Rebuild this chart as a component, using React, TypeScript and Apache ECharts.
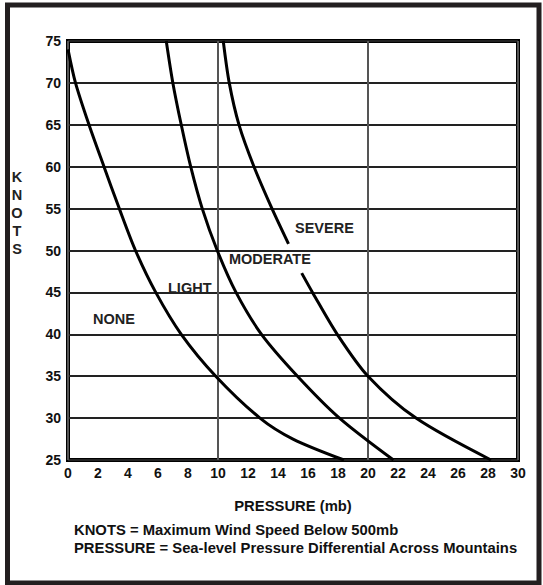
import React, { useEffect, useRef } from "react";
import * as echarts from "echarts";

// Curve boundaries: [pressure (mb), knots]
const noneLight: [number, number][] = [
  [0, 74], [0.5, 70], [1.4, 65], [2.4, 60], [3.42, 55], [4.5, 50], [5.85, 45],
  [7.55, 40], [9.85, 35], [12.8, 30], [15.0, 27.5], [18.4, 25],
];
const lightModerate: [number, number][] = [
  [6.55, 75], [6.99, 70], [7.55, 65], [8.18, 60], [8.95, 55], [9.95, 50], [11.2, 45],
  [12.9, 40], [15.3, 35], [18.1, 30], [21.7, 25],
];
const moderateSevereUpper: [number, number][] = [
  [10.35, 75], [10.75, 70], [11.4, 65], [12.4, 60], [13.6, 55], [14.7, 50.8],
];
const moderateSevereLower: [number, number][] = [
  [15.58, 47.3], [16.3, 45], [17.95, 40], [20, 35], [23.2, 30], [28.2, 25],
];

const xTicks = { min: 0, max: 30, interval: 2 };
const yTicks = { min: 25, max: 75, interval: 5 };

const regionLabels = ["NONE", "LIGHT", "MODERATE", "SEVERE"];
const axisTitleX = "PRESSURE (mb)";
const axisTitleY = ["K", "N", "O", "T", "S"];
const notes = [
  "KNOTS = Maximum Wind Speed Below 500mb",
  "PRESSURE = Sea-level Pressure Differential Across Mountains",
];

const FONT = "'Liberation Sans', Arial, Helvetica, sans-serif";
const INK = "#111";

export default function App() {
  const ref = useRef<HTMLDivElement>(null);
  useEffect(() => {
    if (!ref.current) return;
    const chart = echarts.init(ref.current, undefined, { renderer: "svg" });
    const lineSeries = (data: [number, number][]) => ({
      type: "line",
      data,
      smooth: 0.3,
      symbol: "none",
      xAxisIndex: 0,
      yAxisIndex: 0,
      lineStyle: { color: "#000", width: 3 },
      z: 5,
    });
    const labelStyle = { fontFamily: FONT, fontWeight: "bold", fontSize: 14.5, fill: "#222" };
    const noteStyle = { fontFamily: FONT, fontWeight: "bold", fontSize: 14.8, fill: INK };
    chart.setOption({
      animation: false,
      backgroundColor: "#fff",
      grid: {
        left: 68,
        right: 25,
        top: 41,
        bottom: 125,
        show: true,
        borderColor: "#000",
        borderWidth: 4,
        backgroundColor: "transparent",
      },
      xAxis: [
        {
          type: "value",
          min: xTicks.min,
          max: xTicks.max,
          interval: xTicks.interval,
          axisLine: { show: false },
          axisTick: { show: false },
          splitLine: { show: false },
          axisLabel: {
            color: INK,
            fontFamily: FONT,
            fontWeight: "bold",
            fontSize: 14,
            margin: 6,
          },
          name: axisTitleX,
          nameLocation: "middle",
          nameGap: 38,
          nameTextStyle: { color: INK, fontFamily: FONT, fontWeight: "bold", fontSize: 14.8 },
        },
        {
          type: "value",
          min: xTicks.min,
          max: xTicks.max,
          interval: 10,
          position: "bottom",
          axisLine: { show: false },
          axisTick: { show: false },
          axisLabel: { show: false },
          splitLine: { show: true, lineStyle: { color: "#555", width: 2 } },
        },
      ],
      yAxis: {
        type: "value",
        min: yTicks.min,
        max: yTicks.max,
        interval: yTicks.interval,
        axisLine: { show: false },
        axisTick: { show: false },
        axisLabel: {
          color: INK,
          fontFamily: FONT,
          fontWeight: "bold",
          fontSize: 14,
          margin: 7,
        },
        splitLine: { show: true, lineStyle: { color: "#222", width: 2 } },
      },
      series: [
        lineSeries(noneLight),
        lineSeries(lightModerate),
        lineSeries(moderateSevereUpper),
        lineSeries(moderateSevereLower),
      ],
      graphic: [
        {
          type: "rect",
          shape: { x: 7.5, y: 5, width: 531.5, height: 578 },
          style: { fill: "none", stroke: "#231f20", lineWidth: 5 },
          silent: true,
          z: 100,
        },
        {
          type: "text",
          x: 17,
          y: 213,
          style: {
            text: axisTitleY.join("\n"),
            lineHeight: 17.8,
            align: "center",
            verticalAlign: "middle",
            ...labelStyle,
          },
        },
        { type: "text", x: 93, y: 319, style: { text: regionLabels[0], verticalAlign: "middle", ...labelStyle } },
        { type: "text", x: 168, y: 288, style: { text: regionLabels[1], verticalAlign: "middle", ...labelStyle } },
        { type: "text", x: 229, y: 259, style: { text: regionLabels[2], verticalAlign: "middle", ...labelStyle } },
        { type: "text", x: 295, y: 228, style: { text: regionLabels[3], verticalAlign: "middle", ...labelStyle } },
        { type: "text", x: 74, y: 530, style: { text: notes[0], verticalAlign: "middle", ...noteStyle } },
        { type: "text", x: 74, y: 548, style: { text: notes[1], verticalAlign: "middle", ...noteStyle } },
      ],
    });
    return () => chart.dispose();
  }, []);
  return (
    <div
      ref={ref}
      style={{ position: "fixed", left: 0, top: 0, width: 543, height: 585 }}
    />
  );
}
